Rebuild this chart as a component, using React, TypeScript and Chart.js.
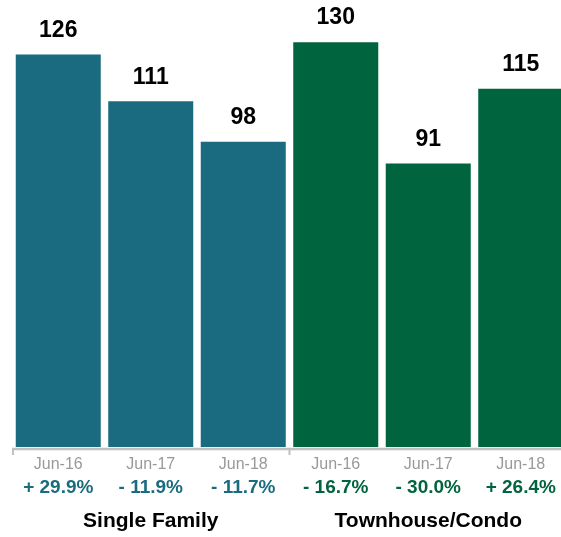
import React, { useEffect, useRef } from "react";
import { Chart, registerables } from "chart.js";

Chart.register(...registerables);

const categories = ["Jun-16", "Jun-17", "Jun-18", "Jun-16", "Jun-17", "Jun-18"];
const values = [126, 111, 98, 130, 91, 115];
const changes = ["+ 29.9%", "- 11.9%", "- 11.7%", "- 16.7%", "- 30.0%", "+ 26.4%"];
const groups = ["Single Family", "Townhouse/Condo"];
const groupSize = 3;
const groupColors = ["#1a6b80", "#00643f"];

const FONT = '"Liberation Sans", Arial, Helvetica, sans-serif';

const labelPlugin = {
  id: "customLabels",
  afterDatasetsDraw(chart: any) {
    const { ctx, chartArea } = chart;
    const x = chart.scales.x;
    const y = chart.scales.y;
    const base = y.getPixelForValue(0);
    ctx.save();
    // axis line
    ctx.strokeStyle = "#c0c0c0";
    ctx.lineWidth = 2.5;
    ctx.beginPath();
    ctx.moveTo(chartArea.left, base + 2);
    ctx.lineTo(chartArea.right, base + 2);
    ctx.stroke();
    // group separators
    ctx.lineWidth = 2;
    for (let g = 0; g <= groups.length; g++) {
      const idx = g * groupSize;
      let px;
      if (idx === 0) px = chartArea.left + 1;
      else if (idx >= categories.length) continue;
      else px = (x.getPixelForValue(idx - 1) + x.getPixelForValue(idx)) / 2;
      ctx.beginPath();
      ctx.moveTo(px, base + 1);
      ctx.lineTo(px, base + 8);
      ctx.stroke();
    }
    ctx.textAlign = "center";
    ctx.textBaseline = "middle";
    values.forEach((v, i) => {
      const cx = x.getPixelForValue(i);
      const top = y.getPixelForValue(v);
      ctx.fillStyle = "#000";
      ctx.font = `bold 23px ${FONT}`;
      ctx.fillText(String(v), cx, top - 24);
      ctx.fillStyle = "#999";
      ctx.font = `16px ${FONT}`;
      ctx.fillText(categories[i], cx, base + 18);
      ctx.fillStyle = groupColors[Math.floor(i / groupSize)];
      ctx.font = `bold 19px ${FONT}`;
      ctx.fillText(changes[i], cx, base + 41);
    });
    groups.forEach((g, gi) => {
      const a = x.getPixelForValue(gi * groupSize);
      const b = x.getPixelForValue(gi * groupSize + groupSize - 1);
      ctx.fillStyle = "#000";
      ctx.font = `bold 21px ${FONT}`;
      ctx.fillText(g, (a + b) / 2, base + 74);
    });
    ctx.restore();
  },
};

export default function App() {
  const ref = useRef<HTMLCanvasElement>(null);
  useEffect(() => {
    if (!ref.current) return;
    const chart = new Chart(ref.current, {
      type: "bar",
      data: {
        labels: categories,
        datasets: [
          {
            data: values,
            backgroundColor: values.map((_, i) => groupColors[Math.floor(i / groupSize)]),
            borderWidth: 0,
            categoryPercentage: 1,
            barPercentage: 0.919,
          },
        ],
      },
      options: {
        animation: false,
        responsive: false,
        maintainAspectRatio: false,
        layout: { padding: { left: 12, right: 3, top: 11, bottom: 90 } },
        plugins: { legend: { display: false }, tooltip: { enabled: false } },
        scales: {
          x: { display: false },
          y: { display: false, min: 0, max: 140 },
        },
      },
      plugins: [labelPlugin],
    });
    return () => chart.destroy();
  }, []);
  return (
    <div
      style={{
        position: "fixed",
        left: 0,
        top: 0,
        width: 561,
        height: 537,
        overflow: "hidden",
        background: "#fff",
      }}
    >
      <canvas ref={ref} width={570} height={537} style={{ display: "block" }} />
    </div>
  );
}
